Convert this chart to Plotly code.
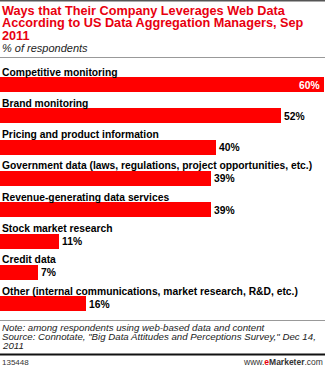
import plotly.graph_objects as go

categories = [
    "Competitive monitoring",
    "Brand monitoring",
    "Pricing and product information",
    "Government data (laws, regulations, project opportunities, etc.)",
    "Revenue-generating data services",
    "Stock market research",
    "Credit data",
    "Other (internal communications, market research, R&D, etc.)",
]
values = [60, 52, 40, 39, 39, 11, 7, 16]

W, H = 325, 367
FONT = "Liberation Sans"

def py(px):
    return 1 - px / H

n = len(categories)
top_px, step = 85, 31.29
dom_top = top_px - step / 2
dom_bot = top_px + step * (n - 1) + step / 2
idx = list(range(n))

fig = go.Figure()
fig.add_trace(go.Bar(
    x=values, y=idx, orientation="h", width=0.48,
    marker=dict(color="#FF0000", line=dict(width=0)),
    hoverinfo="skip",
))

ann = []
for i, (c, v) in enumerate(zip(categories, values)):
    ann.append(dict(x=0, xref="paper", y=i, yref="y", yshift=13, text=f"<b>{c}</b>",
                    xanchor="left", yanchor="middle", showarrow=False,
                    font=dict(family=FONT, size=10.3, color="#000")))
    if i == 0:
        ann.append(dict(x=v, xref="x", y=i, yref="y", xshift=-2, text=f"<b>{v}%</b>",
                        xanchor="right", yanchor="middle", showarrow=False,
                        font=dict(family=FONT, size=10.3, color="#fff")))
    else:
        ann.append(dict(x=v, xref="x", y=i, yref="y", xshift=1, text=f"<b>{v}%</b>",
                        xanchor="left", yanchor="middle", showarrow=False,
                        font=dict(family=FONT, size=10.3, color="#000")))

title_lines = ["Ways that Their Company Leverages Web Data",
               "According to US Data Aggregation Managers, Sep",
               "2011"]
for k, t in enumerate(title_lines):
    ann.append(dict(x=0, xref="paper", y=py(10.5 + 12.5 * k), yref="paper", text=f"<b>{t}</b>",
                    xanchor="left", yanchor="middle", showarrow=False,
                    font=dict(family=FONT, size=12.7, color="#E8000F")))
ann.append(dict(x=0, xref="paper", y=py(48), yref="paper", text="<i>% of respondents</i>",
                xanchor="left", yanchor="middle", showarrow=False,
                font=dict(family=FONT, size=11, color="#222")))

notes = ["Note: among respondents using web-based data and content",
         "Source: Connotate, \"Big Data Attitudes and Perceptions Survey,\" Dec 14,",
         "2011"]
for k, t in enumerate(notes):
    ann.append(dict(x=0, xref="paper", y=py(327.5 + 9 * k), yref="paper", text=f"<i>{t}</i>",
                    xanchor="left", yanchor="middle", showarrow=False,
                    font=dict(family=FONT, size=9.7, color="#222")))
ann.append(dict(x=0, xref="paper", y=py(362), yref="paper", text="135448",
                xanchor="left", yanchor="middle", showarrow=False,
                font=dict(family=FONT, size=8, color="#333")))
ann.append(dict(x=1, xref="paper", y=py(362), yref="paper",
                text="www.<span style='color:#E8000F'><b>e</b></span><b>Marketer</b>.com",
                xanchor="right", yanchor="middle", showarrow=False,
                font=dict(family=FONT, size=8.5, color="#333")))

shapes = [
    dict(type="line", xref="paper", yref="paper", x0=0, x1=1, y0=py(0.5), y1=py(0.5),
         line=dict(color="#555", width=2)),
    dict(type="line", xref="paper", yref="paper", x0=0, x1=1, y0=py(57.5), y1=py(57.5),
         line=dict(color="#999", width=1)),
    dict(type="line", xref="paper", yref="paper", x0=0, x1=1, y0=py(320.5), y1=py(320.5),
         line=dict(color="#999", width=1)),
    dict(type="line", xref="paper", yref="paper", x0=0, x1=1, y0=py(354.5), y1=py(354.5),
         line=dict(color="#111", width=2)),
]

fig.update_layout(
    width=W, height=H, margin=dict(l=0, r=0, t=0, b=0),
    paper_bgcolor="white", plot_bgcolor="white", showlegend=False,
    bargap=0,
    xaxis=dict(range=[0, W / 5.4], domain=[0, 1], visible=False, fixedrange=True),
    yaxis=dict(range=[n - 0.5, -0.5], domain=[py(dom_bot), py(dom_top)], visible=False,
               fixedrange=True),
    annotations=ann, shapes=shapes,
)
fig.write_html("out.html")
